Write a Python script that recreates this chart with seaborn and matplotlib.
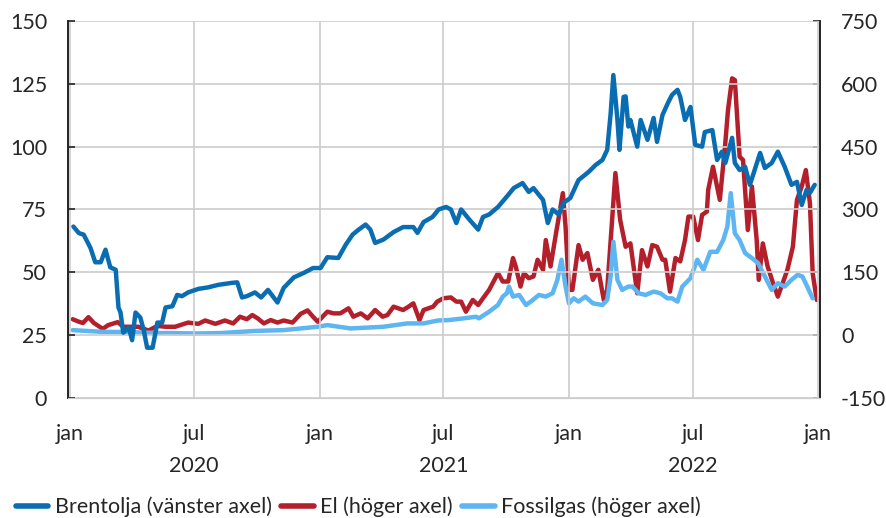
#price chart: brent oil, electricity and natural gas 2020-2022
import seaborn as sns
import pandas as pd
import matplotlib.pyplot as plt
from matplotlib.lines import Line2D

brent_dates = [
    "2020-01-06", "2020-01-14", "2020-01-21", "2020-01-31", "2020-02-07", "2020-02-15", "2020-02-22", "2020-02-29",
    "2020-03-08", "2020-03-12", "2020-03-15", "2020-03-19", "2020-03-27", "2020-04-01", "2020-04-06", "2020-04-13",
    "2020-04-18", "2020-04-23", "2020-05-01", "2020-05-08", "2020-05-15", "2020-05-20", "2020-05-30", "2020-06-06",
    "2020-06-13", "2020-06-22", "2020-07-07", "2020-07-21", "2020-08-05", "2020-08-25", "2020-09-02", "2020-09-09",
    "2020-09-16", "2020-09-28", "2020-10-07", "2020-10-17", "2020-10-31", "2020-11-09", "2020-11-24", "2020-12-08",
    "2020-12-22", "2021-01-02", "2021-01-12", "2021-01-28", "2021-02-08", "2021-02-18", "2021-02-27", "2021-03-09",
    "2021-03-16", "2021-03-23", "2021-04-04", "2021-04-19", "2021-05-03", "2021-05-18", "2021-05-24", "2021-06-02",
    "2021-06-15", "2021-06-24", "2021-07-05", "2021-07-12", "2021-07-20", "2021-07-27", "2021-08-08", "2021-08-21",
    "2021-08-28", "2021-09-06", "2021-09-19", "2021-10-04", "2021-10-12", "2021-10-25", "2021-11-03", "2021-11-10",
    "2021-11-24", "2021-12-01", "2021-12-08", "2021-12-17", "2021-12-24", "2022-01-03", "2022-01-15", "2022-01-30",
    "2022-02-09", "2022-02-19", "2022-02-26", "2022-03-03", "2022-03-07", "2022-03-13", "2022-03-16", "2022-03-22",
    "2022-03-25", "2022-03-29", "2022-04-01", "2022-04-11", "2022-04-16", "2022-04-26", "2022-05-05", "2022-05-10",
    "2022-05-18", "2022-05-26", "2022-06-01", "2022-06-09", "2022-06-13", "2022-06-20", "2022-06-28", "2022-07-05",
    "2022-07-15", "2022-07-19", "2022-07-30", "2022-08-06", "2022-08-13", "2022-08-18", "2022-08-28", "2022-09-01",
    "2022-09-08", "2022-09-16", "2022-09-23", "2022-09-30", "2022-10-08", "2022-10-15", "2022-10-25", "2022-11-03",
    "2022-11-13", "2022-11-23", "2022-12-01", "2022-12-08", "2022-12-15", "2022-12-20", "2022-12-27",
]
brent_values = [
    68.2, 65.6, 65, 59.7, 54, 54, 59, 52,
    51, 36, 34, 26, 28, 23, 34, 32,
    27, 20, 20, 30, 30, 36, 36.5, 41,
    40.5, 42, 43.4, 44, 45, 45.8, 46, 40,
    40.5, 42, 40, 43, 38, 43.8, 48, 49.7,
    51.7, 51.7, 56, 55.7, 61, 65, 67, 69,
    67, 61.7, 63, 66, 68, 68, 65.7, 70,
    72, 75, 76, 75, 69.6, 75, 71, 67,
    72, 73, 76, 80.8, 83.5, 85.5, 82, 83.5,
    78.8, 69.6, 75, 73, 77.6, 79.6, 86.7, 90,
    92.7, 94.7, 98.7, 113, 128.5, 110.6, 98.7, 119.8,
    120, 108, 110.6, 100, 110.6, 102.7, 111.4, 101.9,
    112.6, 117.4, 120.6, 122.6, 119.8, 110.6, 115.8, 100.7,
    100, 105.8, 106.6, 94.7, 98, 93.5, 103.5, 93.5,
    90.7, 92, 84.8, 90.7, 97.5, 91.5, 93.5, 98,
    92, 84.8, 86, 76.8, 82.8, 81.6, 84.8,
]

el_dates = [
    "2020-01-05", "2020-01-14", "2020-01-20", "2020-01-28", "2020-02-05", "2020-02-18", "2020-02-26", "2020-03-11",
    "2020-03-19", "2020-03-30", "2020-04-10", "2020-04-25", "2020-05-08", "2020-05-20", "2020-06-03", "2020-06-22",
    "2020-07-07", "2020-07-17", "2020-08-01", "2020-08-15", "2020-08-27", "2020-09-06", "2020-09-16", "2020-09-24",
    "2020-10-02", "2020-10-11", "2020-10-21", "2020-10-31", "2020-11-09", "2020-11-22", "2020-12-04", "2020-12-14",
    "2020-12-22", "2020-12-29", "2021-01-12", "2021-01-21", "2021-01-31", "2021-02-12", "2021-02-19", "2021-03-02",
    "2021-03-12", "2021-03-23", "2021-04-03", "2021-04-10", "2021-04-19", "2021-05-03", "2021-05-11", "2021-05-18",
    "2021-05-27", "2021-06-02", "2021-06-09", "2021-06-16", "2021-06-22", "2021-07-01", "2021-07-12", "2021-07-20",
    "2021-07-27", "2021-08-03", "2021-08-13", "2021-08-21", "2021-08-28", "2021-09-06", "2021-09-19", "2021-09-26",
    "2021-10-04", "2021-10-11", "2021-10-15", "2021-10-22", "2021-10-27", "2021-11-03", "2021-11-10", "2021-11-16",
    "2021-11-24", "2021-11-28", "2021-12-05", "2021-12-13", "2021-12-23", "2021-12-27", "2022-01-01", "2022-01-06",
    "2022-01-15", "2022-01-21", "2022-01-28", "2022-02-05", "2022-02-13", "2022-02-21", "2022-02-26", "2022-03-10",
    "2022-03-17", "2022-03-25", "2022-04-01", "2022-04-11", "2022-04-18", "2022-04-26", "2022-05-03", "2022-05-10",
    "2022-05-18", "2022-05-22", "2022-05-29", "2022-06-06", "2022-06-13", "2022-06-20", "2022-06-25", "2022-07-02",
    "2022-07-09", "2022-07-15", "2022-07-22", "2022-07-24", "2022-07-31", "2022-08-10", "2022-08-18", "2022-08-22",
    "2022-08-28", "2022-09-01", "2022-09-08", "2022-09-13", "2022-09-20", "2022-09-26", "2022-10-03", "2022-10-06",
    "2022-10-12", "2022-10-19", "2022-10-27", "2022-11-03", "2022-11-10", "2022-11-17", "2022-11-25", "2022-12-01",
    "2022-12-08", "2022-12-14", "2022-12-20", "2022-12-24", "2022-12-30",
]
el_values = [
    38, 32, 29, 43, 29, 15, 24, 31,
    20, 20, 20, 11, 22, 20, 20, 30,
    27, 35, 27, 35, 28, 44, 38, 48,
    40, 28, 36, 30, 35, 30, 51, 59,
    44, 32, 56, 52, 52, 64, 44, 52,
    40, 60, 44, 48, 68, 60, 68, 76,
    36, 60, 64, 68, 80, 88, 90, 80,
    80, 56, 84, 72, 88, 108, 148, 128,
    128, 184, 164, 116, 148, 136, 140, 180,
    156, 227, 164, 243, 339, 259, 108, 108,
    215, 180, 196, 132, 156, 84, 108, 387,
    275, 211, 219, 100, 203, 164, 215, 211,
    180, 180, 104, 184, 176, 227, 283, 283,
    227, 287, 295, 347, 402, 323, 458, 538,
    613, 609, 426, 418, 251, 355, 227, 132,
    219, 164, 124, 92, 124, 156, 211, 323,
    355, 394, 315, 148, 84,
]

gas_dates = [
    "2020-01-05", "2020-02-16", "2020-03-31", "2020-05-14", "2020-07-07", "2020-08-09", "2020-09-28", "2020-11-09",
    "2020-12-29", "2021-01-12", "2021-02-15", "2021-04-04", "2021-05-09", "2021-06-02", "2021-06-23", "2021-07-09",
    "2021-07-30", "2021-08-18", "2021-08-22", "2021-09-06", "2021-09-19", "2021-09-26", "2021-10-02", "2021-10-05",
    "2021-10-11", "2021-10-20", "2021-10-30", "2021-11-06", "2021-11-18", "2021-11-28", "2021-12-08", "2021-12-15",
    "2021-12-21", "2021-12-27", "2022-01-01", "2022-01-08", "2022-01-15", "2022-01-25", "2022-02-05", "2022-02-19",
    "2022-02-26", "2022-03-03", "2022-03-07", "2022-03-13", "2022-03-20", "2022-03-29", "2022-04-04", "2022-04-13",
    "2022-04-23", "2022-05-05", "2022-05-15", "2022-05-25", "2022-06-01", "2022-06-09", "2022-06-16", "2022-06-28",
    "2022-07-08", "2022-07-17", "2022-07-27", "2022-08-06", "2022-08-15", "2022-08-21", "2022-08-26", "2022-09-01",
    "2022-09-08", "2022-09-16", "2022-09-26", "2022-10-05", "2022-10-15", "2022-10-25", "2022-11-03", "2022-11-13",
    "2022-11-23", "2022-12-02", "2022-12-09", "2022-12-16", "2022-12-24",
]
gas_values = [
    12, 8, 7, 5, 4, 5, 10, 12,
    20, 24, 16, 20, 28, 28, 35, 36,
    40, 44, 40, 56, 72, 92, 100, 116,
    92, 96, 72, 80, 96, 92, 100, 132,
    180, 116, 76, 88, 80, 92, 76, 72,
    84, 140, 223, 132, 108, 116, 116, 100,
    96, 104, 100, 88, 88, 80, 116, 136,
    180, 156, 199, 199, 227, 259, 339, 243,
    227, 196, 184, 172, 140, 108, 124, 116,
    132, 144, 140, 116, 88,
]

left_ticks = [0, 25, 50, 75, 100, 125, 150]
right_ticks = [-150, 0, 150, 300, 450, 600, 750]
month_ticks = ["2020-01-01", "2020-07-01", "2021-01-01", "2021-07-01", "2022-01-01", "2022-07-01", "2023-01-01"]
month_labels = ["jan", "jul", "jan", "jul", "jan", "jul", "jan"]
years = ["2020", "2021", "2022"]
labels = ["Brentolja (vänster axel)", "El (höger axel)", "Fossilgas (höger axel)"]
colors = ["#0A6DB2", "#B41F2C", "#5DB5F2"]

brent = pd.DataFrame({"date": pd.to_datetime(brent_dates), "value": brent_values})
el = pd.DataFrame({"date": pd.to_datetime(el_dates), "value": el_values})
gas = pd.DataFrame({"date": pd.to_datetime(gas_dates), "value": gas_values})

sns.set_style("white")
plt.rcParams["font.family"] = ["Lato", "DejaVu Sans"]
plt.rcParams["font.size"] = 15.5
plt.rcParams["axes.unicode_minus"] = False
fs = 15.5

fig = plt.figure(figsize=(8.86, 5.18), dpi=100)
ax = fig.add_axes([0.0767, 0.2317, 0.849, 0.7278])
ax2 = ax.twinx()

sns.lineplot(data=el, x="date", y="value", ax=ax2, color=colors[1], linewidth=3.2)
sns.lineplot(data=gas, x="date", y="value", ax=ax2, color=colors[2], linewidth=3.2)
sns.lineplot(data=brent, x="date", y="value", ax=ax, color=colors[0], linewidth=3.2, zorder=3)

# brent on top of the twin axes
ax.set_zorder(ax2.get_zorder() + 1)
ax.patch.set_visible(False)

ax.set_ylim(0, 150)
ax2.set_ylim(-150, 750)
ax.set_yticks(left_ticks)
ax2.set_yticks(right_ticks)
ax.set_xlim(pd.Timestamp("2019-12-29"), pd.Timestamp("2023-01-04"))
ax.set_xticks(pd.to_datetime(month_ticks))
ax.set_xticklabels(month_labels)
ax.set_xlabel("")
ax.set_ylabel("")
ax2.set_ylabel("")

ax.grid(True, color="#cccccc", linewidth=1.2)
ax2.grid(False)
ax.tick_params(axis="x", length=0, pad=19, labelsize=fs)
ax.tick_params(axis="y", direction="in", length=5, width=1.2, color="#222222", labelsize=fs, pad=15)
ax2.tick_params(axis="y", direction="in", length=5, width=1.2, color="#222222", labelsize=fs, pad=15)

for a in (ax, ax2):
    a.spines["top"].set_visible(False)
    a.spines["bottom"].set_color("#cccccc")
    a.spines["left"].set_color("#222222")
    a.spines["right"].set_color("#222222")
    a.spines["left"].set_linewidth(1.2)
    a.spines["right"].set_linewidth(1.2)

for yr in years:
    ax.text(pd.Timestamp(f"{yr}-07-01"), -0.18, yr, transform=ax.get_xaxis_transform(),
            ha="center", va="center", fontsize=fs)

handles = [Line2D([0], [0], color=c, linewidth=4) for c in colors]
fig.legend(handles, labels, loc="lower left", bbox_to_anchor=(-0.004, -0.036), ncol=3, frameon=False,
           fontsize=fs, handlelength=1.5, handletextpad=0.3, columnspacing=0.45)

plt.savefig("out.png", dpi=100)
